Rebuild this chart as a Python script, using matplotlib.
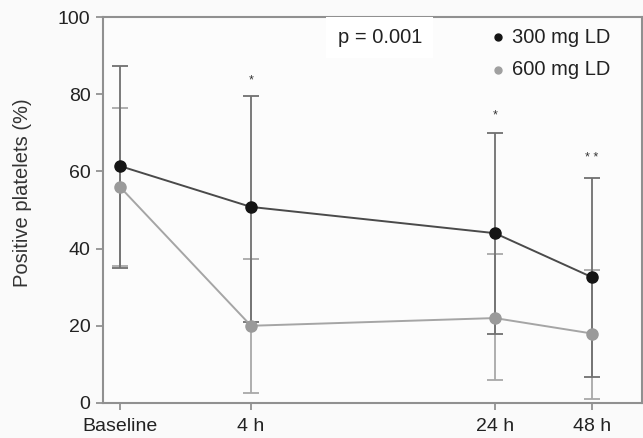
import numpy as np
import matplotlib.pyplot as plt

plt.rcParams['font.family'] = ['Liberation Sans', 'DejaVu Sans']

# Datos
tiempos = ['Baseline', '4 h', '24 h', '48 h']
x_pos = [0.0, 1.0, 2.86, 3.6]

ld300 = [61.4, 50.8, 44.0, 32.6]
ld300_sup = [25.8, 28.7, 26.0, 25.8]
ld300_inf = [26.4, 29.8, 26.0, 25.9]

ld600 = [56.0, 20.0, 22.0, 18.0]
ld600_sup = [20.5, 17.3, 16.6, 16.5]
ld600_inf = [20.5, 17.4, 16.0, 17.0]

asteriscos = ['', '*', '*', '* *']
ast_y = [0, 83.5, 74.5, 63.5]

fig = plt.figure(figsize=(6.43, 4.38), dpi=100)
fig.patch.set_facecolor('#fafafa')
ax = fig.add_axes([0.160, 0.080, 0.838, 0.881])
ax.set_facecolor('#fcfcfc')

# barras de error (600 primero, 300 encima)
ax.errorbar(x_pos, ld600, yerr=[ld600_inf, ld600_sup], fmt='none',
            ecolor='#a8a8a8', elinewidth=1.3, capsize=6, capthick=1.3)
ax.errorbar(x_pos, ld300, yerr=[ld300_inf, ld300_sup], fmt='none',
            ecolor='#707070', elinewidth=1.3, capsize=6, capthick=1.3)

ax.plot(x_pos, ld600, color='#a5a5a5', lw=1.4, marker='o', ms=8,
        mfc='#9a9a9a', mec='#9a9a9a', zorder=3)
ax.plot(x_pos, ld300, color='#4a4a4a', lw=1.4, marker='o', ms=8,
        mfc='#151515', mec='#151515', zorder=4)

for i in range(len(x_pos)):
    if asteriscos[i]:
        ax.text(x_pos[i], ast_y[i], asteriscos[i], ha='center', va='center',
                fontsize=9, color='#333333')

# leyenda y valor p
ax.text(1.66, 94.8, 'p = 0.001', fontsize=14.5, color='#222222',
        ha='left', va='center',
        bbox=dict(facecolor='white', edgecolor='none', pad=8))
ax.plot([2.88], [94.8], 'o', ms=5, color='#151515')
ax.plot([2.88], [86.3], 'o', ms=5, color='#a0a0a0')
ax.text(2.99, 94.8, '300 mg LD', fontsize=14.5, color='#222222', va='center')
ax.text(2.99, 86.3, '600 mg LD', fontsize=14.5, color='#222222', va='center')

ax.set_xlim(-0.13, 3.98)
ax.set_ylim(0, 100)
ax.set_xticks(x_pos)
ax.set_xticklabels(tiempos)
ax.set_yticks([0, 20, 40, 60, 80, 100])
ax.set_ylabel('Positive platelets (%)', fontsize=14.5, color='#333333')
ax.yaxis.set_label_coords(-0.132, 0.545)
ax.tick_params(axis='both', labelsize=14, colors='#888888', labelcolor='#222222',
               length=5, width=1.2, direction='out', pad=4)
ax.tick_params(axis='x', pad=6)

for s in ax.spines.values():
    s.set_color('#909090')
    s.set_linewidth(1.5)

fig.savefig('out.png', dpi=100, facecolor=fig.get_facecolor())
